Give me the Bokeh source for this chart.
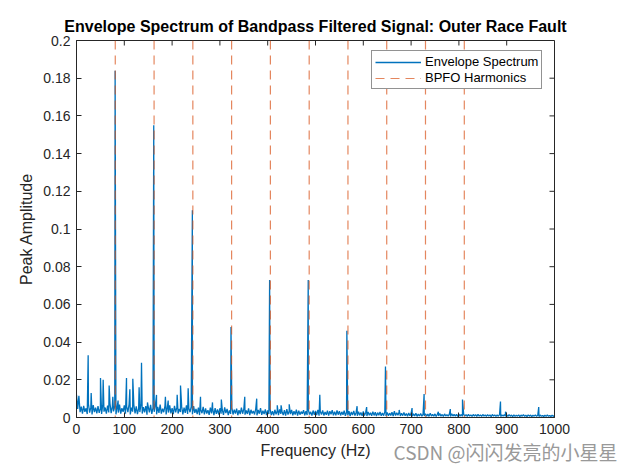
import numpy as np
from bokeh.plotting import figure
from bokeh.models import (Range1d, FixedTicker, NumeralTickFormatter,
                          Legend, LegendItem, Title)
from bokeh.embed import file_html
from bokeh.resources import INLINE

# ---------------- data ----------------
title_text = "Envelope Spectrum of Bandpass Filtered Signal: Outer Race Fault"
x_label = "Frequency (Hz)"
y_label = "Peak Amplitude"
x_ticks = [0, 100, 200, 300, 400, 500, 600, 700, 800, 900, 1000]
y_ticks = [0, 0.02, 0.04, 0.06, 0.08, 0.1, 0.12, 0.14, 0.16, 0.18, 0.2]

bin_step_hz = 2.5
noise_floor = [
    0.0120, 0.0045, 0.0115, 0.0028, 0.0058, 0.0021, 0.0062, 0.0030, 0.0049, 0.0018, 0.0071, 0.0026, 0.0055, 0.0016, 0.0066, 0.0029, 0.0052, 0.0022, 0.0060, 0.0025,
    0.0047, 0.0019, 0.0069, 0.0031, 0.0053, 0.0020, 0.0063, 0.0027, 0.0075, 0.0023, 0.0058, 0.0032, 0.0061, 0.0017, 0.0054, 0.0026, 0.0068, 0.0021, 0.0050, 0.0030,
    0.0064, 0.0020, 0.0057, 0.0028, 0.0070, 0.0016, 0.0052, 0.0031, 0.0066, 0.0022, 0.0059, 0.0018, 0.0048, 0.0029, 0.0072, 0.0021, 0.0055, 0.0027, 0.0061, 0.0015,
    0.0058, 0.0027, 0.0067, 0.0019, 0.0051, 0.0030, 0.0063, 0.0017, 0.0056, 0.0025, 0.0069, 0.0021, 0.0047, 0.0028, 0.0060, 0.0016, 0.0053, 0.0026, 0.0065, 0.0022,
    0.0050, 0.0018, 0.0062, 0.0027, 0.0055, 0.0021, 0.0046, 0.0029, 0.0059, 0.0016, 0.0052, 0.0024, 0.0064, 0.0019, 0.0049, 0.0028, 0.0057, 0.0017, 0.0061, 0.0025,
    0.0045, 0.0018, 0.0053, 0.0013, 0.0041, 0.0023, 0.0056, 0.0016, 0.0048, 0.0021, 0.0039, 0.0014, 0.0052, 0.0022, 0.0044, 0.0012, 0.0050, 0.0019, 0.0043, 0.0016,
    0.0049, 0.0020, 0.0040, 0.0014, 0.0054, 0.0023, 0.0046, 0.0013, 0.0038, 0.0019, 0.0051, 0.0016, 0.0042, 0.0021, 0.0047, 0.0012, 0.0039, 0.0018, 0.0053, 0.0020,
    0.0044, 0.0015, 0.0037, 0.0019, 0.0048, 0.0013, 0.0041, 0.0021, 0.0035, 0.0016, 0.0046, 0.0012, 0.0040, 0.0020, 0.0050, 0.0014, 0.0036, 0.0018, 0.0043, 0.0013,
    0.0038, 0.0018, 0.0045, 0.0013, 0.0034, 0.0011, 0.0041, 0.0017, 0.0036, 0.0012, 0.0043, 0.0019, 0.0032, 0.0013, 0.0039, 0.0010, 0.0044, 0.0015, 0.0035, 0.0018,
    0.0040, 0.0012, 0.0033, 0.0016, 0.0042, 0.0010, 0.0036, 0.0015, 0.0031, 0.0019, 0.0039, 0.0011, 0.0034, 0.0013, 0.0041, 0.0016, 0.0030, 0.0010, 0.0037, 0.0014,
    0.0035, 0.0013, 0.0040, 0.0010, 0.0032, 0.0016, 0.0038, 0.0011, 0.0029, 0.0014, 0.0036, 0.0010, 0.0033, 0.0017, 0.0039, 0.0012, 0.0031, 0.0011, 0.0037, 0.0015,
    0.0034, 0.0011, 0.0030, 0.0014, 0.0036, 0.0009, 0.0028, 0.0012, 0.0033, 0.0008, 0.0029, 0.0013, 0.0035, 0.0010, 0.0027, 0.0009, 0.0031, 0.0012, 0.0026, 0.0009,
    0.0032, 0.0010, 0.0027, 0.0008, 0.0030, 0.0012, 0.0025, 0.0009, 0.0031, 0.0011, 0.0028, 0.0008, 0.0026, 0.0012, 0.0029, 0.0009, 0.0024, 0.0010, 0.0030, 0.0008,
    0.0027, 0.0009, 0.0023, 0.0011, 0.0028, 0.0008, 0.0033, 0.0010, 0.0025, 0.0012, 0.0030, 0.0008, 0.0022, 0.0010, 0.0026, 0.0009, 0.0021, 0.0007, 0.0024, 0.0010,
    0.0022, 0.0007, 0.0019, 0.0008, 0.0023, 0.0006, 0.0018, 0.0008, 0.0021, 0.0007, 0.0017, 0.0009, 0.0020, 0.0007, 0.0018, 0.0006, 0.0022, 0.0008, 0.0016, 0.0007,
    0.0019, 0.0006, 0.0017, 0.0008, 0.0021, 0.0007, 0.0016, 0.0006, 0.0019, 0.0008, 0.0015, 0.0007, 0.0018, 0.0006, 0.0020, 0.0008, 0.0016, 0.0007, 0.0017, 0.0006,
    0.0018, 0.0007, 0.0016, 0.0006, 0.0017, 0.0008, 0.0015, 0.0006, 0.0017, 0.0007, 0.0014, 0.0006, 0.0016, 0.0008, 0.0015, 0.0006, 0.0017, 0.0007, 0.0014, 0.0006,
    0.0016, 0.0007, 0.0014, 0.0006, 0.0015, 0.0007, 0.0014, 0.0005, 0.0016, 0.0007, 0.0014, 0.0006, 0.0013, 0.0007, 0.0015, 0.0005, 0.0014, 0.0007, 0.0015, 0.0006,
    0.0014, 0.0006, 0.0015, 0.0007, 0.0013, 0.0005, 0.0014, 0.0006, 0.0012, 0.0007, 0.0014, 0.0005, 0.0013, 0.0007, 0.0015, 0.0006, 0.0012, 0.0005, 0.0014, 0.0007,
    0.0013, 0.0005, 0.0012, 0.0007, 0.0014, 0.0006, 0.0012, 0.0005, 0.0013, 0.0007, 0.0011, 0.0005, 0.0012, 0.0006, 0.0013, 0.0007, 0.0011, 0.0005, 0.0012, 0.0006, 0.0011,
]

# isolated spectral lines (Hz, amplitude)
peak_freqs = [24.4, 30.7, 50.2, 55.8, 68.3, 76.0, 80.8, 87.0, 104.6, 111.6, 117.8, 131.0,
              136.0, 148.5, 161.6, 167.4, 186.0, 191.8, 210.6, 217.6, 233.6, 242.4, 259.4,
              284.5, 303.0, 323.2, 352.0, 377.0, 404.0, 420.0, 428.0, 445.0, 484.8, 509.0,
              565.6, 587.0, 607.0, 646.4, 675.0, 702.0, 727.2, 757.0, 782.0, 807.5, 887.0,
              897.5, 967.0]
peak_amps = [0.033, 0.013, 0.021, 0.020, 0.017, 0.011, 0.184, 0.009, 0.021, 0.015, 0.0205, 0.016,
             0.029, 0.008, 0.155, 0.012, 0.011, 0.009, 0.012, 0.017, 0.0155, 0.110, 0.011,
             0.008, 0.0095, 0.048, 0.011, 0.010, 0.073, 0.0065, 0.0065, 0.007, 0.073, 0.012,
             0.046, 0.006, 0.0055, 0.027, 0.004, 0.005, 0.0125, 0.003, 0.0045, 0.0095, 0.0085,
             0.003, 0.0055]

# BPFO harmonic frequencies (Hz)
bpfo_harmonics = [81.1, 162.3, 243.4, 324.5, 405.6, 486.8, 567.9, 649.0, 730.1, 811.3]

watermark = "CSDN @闪闪发亮的小星星"

# ---------------- build spectrum ----------------
noise_freqs = np.arange(len(noise_floor)) * bin_step_hz
freqs = np.concatenate([noise_freqs, np.array(peak_freqs)])
amps = np.concatenate([np.array(noise_floor), np.array(peak_amps)])
order = np.argsort(freqs, kind="stable")
freqs = freqs[order]
amps = amps[order]

AX = "#262626"
FONT = "Liberation Sans"

p = figure(width=639, height=471, output_backend="svg", toolbar_location=None,
           x_range=Range1d(0, 1000), y_range=Range1d(0, 0.2),
           min_border_left=76, min_border_right=85, min_border_top=40, min_border_bottom=54)

p.title.text = title_text
p.title.align = "center"
p.title.text_font = FONT
p.title.text_font_size = "16px"
p.title.text_font_style = "bold"
p.title.text_color = "#000000"
p.title.standoff = 12

p.grid.visible = False
p.background_fill_color = "white"
p.border_fill_color = "white"
p.outline_line_color = AX
p.outline_line_width = 1

xt = FixedTicker(ticks=x_ticks, minor_ticks=[])
yt = FixedTicker(ticks=y_ticks, minor_ticks=[])

for ax, tk in ((p.xaxis[0], xt), (p.yaxis[0], yt)):
    ax.ticker = tk
    ax.axis_line_color = AX
    ax.major_tick_line_color = AX
    ax.major_tick_in = 5
    ax.major_tick_out = 0
    ax.minor_tick_line_color = None
    ax.major_label_text_font = FONT
    ax.major_label_text_color = AX
    ax.major_label_text_font_size = "14px"
    ax.major_label_standoff = 6
    ax.axis_label_text_font = FONT
    ax.axis_label_text_font_size = "16px"
    ax.axis_label_text_font_style = "normal"
    ax.axis_label_text_color = AX
    ax.axis_label_standoff = 5
p.yaxis[0].formatter = NumeralTickFormatter(format="0.[00]")
p.xaxis[0].axis_label = x_label
p.yaxis[0].axis_label = y_label

# inward box ticks on top and right edges (from the same tick lists)
p.ray(x=x_ticks, y=[0.2] * len(x_ticks), length=5, length_units="screen",
      angle=-np.pi / 2, line_color=AX, line_width=1)
p.ray(x=[1000] * len(y_ticks), y=y_ticks, length=5, length_units="screen",
      angle=np.pi, line_color=AX, line_width=1)

spec = p.line(freqs, amps, line_color="#0072BD", line_width=1.3)

n = len(bpfo_harmonics)
harm = p.segment(x0=bpfo_harmonics, y0=[0.2] * n, x1=bpfo_harmonics, y1=[0.0] * n,
                 line_color="#D95319", line_alpha=0.7, line_width=1.2, line_dash="9 6")

legend = Legend(items=[LegendItem(label="Envelope Spectrum", renderers=[spec]),
                       LegendItem(label="BPFO Harmonics", renderers=[harm])],
                location=(295, 328))
legend.label_text_font = FONT
legend.label_text_font_size = "13px"
legend.label_text_color = "#000000"
legend.glyph_width = 46
legend.glyph_height = 14
legend.label_height = 14
legend.label_standoff = 4
legend.spacing = 1
legend.padding = 3
legend.margin = 0
legend.border_line_color = AX
legend.border_line_width = 1
legend.background_fill_alpha = 1
p.add_layout(legend, "center")

# watermark in the bottom panel, same row as the x-axis label
wm = Title(text=watermark, align="right", offset=-63, standoff=-48, vertical_align="top",
           text_font="Noto Sans CJK SC", text_font_size="19px", text_font_style="normal",
           text_color="#999999")
p.add_layout(wm, "below")

open("out.html", "w").write(file_html(p, INLINE))
